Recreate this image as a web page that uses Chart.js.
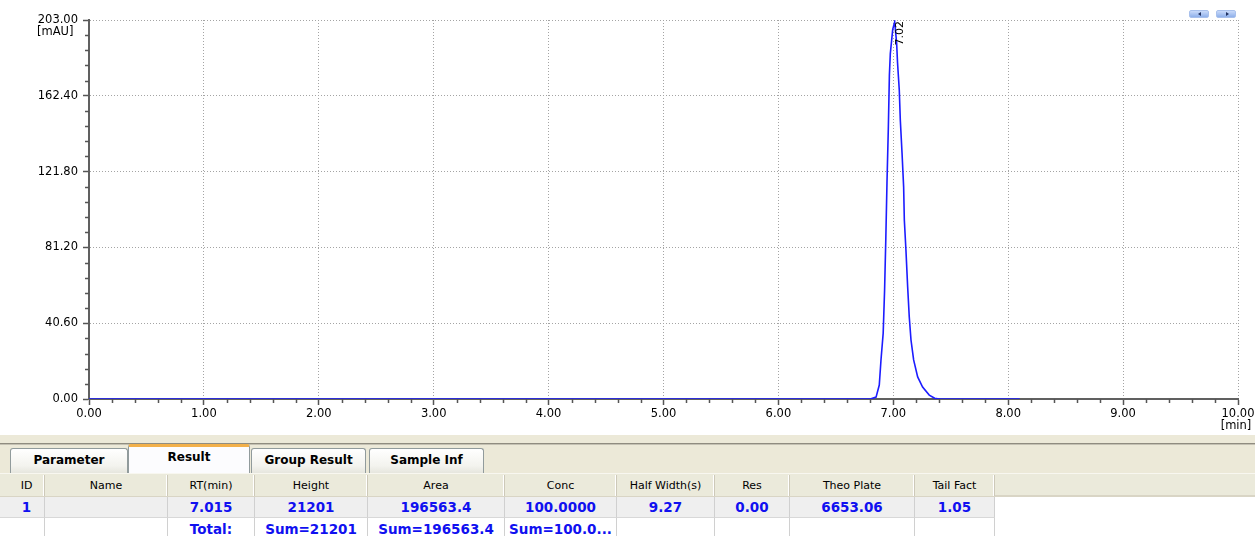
<!DOCTYPE html>
<html><head><meta charset="utf-8">
<script src="https://cdn.jsdelivr.net/npm/chart.js@4.4.0/dist/chart.umd.min.js"></script>
<style>
html,body{margin:0;padding:0;}
body{width:1255px;height:536px;overflow:hidden;background:#fff;position:relative;font-family:'DejaVu Sans',sans-serif;}
#wrap{position:absolute;left:0;top:0;width:1255px;height:436px;}
.btn{position:absolute;top:10px;width:20px;height:8px;border-radius:2px;background:linear-gradient(#c9dafa,#8fb0ea);border:1px solid #a8c0ec;box-sizing:border-box;}
.tri{position:absolute;top:1px;width:0;height:0;border-top:2.5px solid transparent;border-bottom:2.5px solid transparent;}
#panel{position:absolute;left:0;top:435px;width:1255px;height:101px;background:#ECE9D8;}
#line1{position:absolute;left:0;top:443px;width:1255px;height:1px;background:#8f8c80;}
#line2{position:absolute;left:0;top:444px;width:1255px;height:1px;background:#c4c1b3;}
.tab{position:absolute;box-sizing:border-box;font-weight:bold;font-size:12px;color:#000;text-align:center;border:1px solid #919B9C;border-bottom:none;border-radius:3px 3px 0 0;background:linear-gradient(#ffffff,#f3f3ee 70%,#e6e6de);}
.tab.active{background:#FCFCFE;border-top:3px solid #F2B04A;border-left:1px solid #919B9C;border-right:1px solid #919B9C;}
.cell{position:absolute;box-sizing:border-box;text-align:center;white-space:nowrap;overflow:hidden;}
.hd{font-size:11px;color:#000;background:#EBEADB;border-right:1px solid #cdc9b9;box-shadow:inset -1px 0 0 #fff;}
.dr{font-size:13.5px;font-weight:bold;color:#1010f0;border-right:1px solid #d0d0d0;border-bottom:1px solid #d8d8d8;}
</style></head><body>
<div id="wrap"><canvas id="c" width="1255" height="436"></canvas></div>
<div class="btn" style="left:1189px;"><div class="tri" style="left:8px;border-right:3px solid #203060;"></div></div>
<div class="btn" style="left:1216px;"><div class="tri" style="left:9px;border-left:3px solid #203060;"></div></div>
<div id="panel"></div>
<div id="line1"></div><div id="line2"></div>
<div id="tabs"></div>
<div id="table"></div>
<script>
// ---- chromatogram data (time in min, signal in mAU) ----
const timeMin = [0.00, 6.80, 6.850, 6.878, 6.893, 6.912, 6.924, 6.935, 6.945, 6.957, 6.966, 6.974, 6.995, 7.012,
                 7.029, 7.037, 7.052, 7.061, 7.076, 7.090, 7.096, 7.110, 7.125, 7.139, 7.154, 7.177, 7.212, 7.255, 7.313, 7.360, 7.400, 8.10];
const signal  = [0.0, 0.0, 1.0, 7.5, 21.0, 35.3, 58.0, 86.2, 115.7, 145.7, 173.5, 185.0, 198.0, 202.0,
                 190.7, 180.0, 165.5, 149.4, 131.8, 113.5, 95.9, 79.8, 60.0, 43.9, 31.6, 20.9, 11.8, 6.4, 2.1, 0.4, 0.0, 0.0];
const xMin = 0, xMax = 10, xMajorStep = 1, xMinorStep = 0.2;
const yMin = 0, yMax = 203, yMajorStep = 40.6, yMinorStep = 8.12;
const yUnit = '[mAU]';
const xUnit = '[min]';
const peakTimes = [7.02];
const peakLabels = ['7.02'];

// ---- result table ----
const tabNames = ['Parameter', 'Result', 'Group Result', 'Sample Inf'];
const activeTab = 'Result';
const columns = ['ID', 'Name', 'RT(min)', 'Height', 'Area', 'Conc', 'Half Width(s)', 'Res', 'Theo Plate', 'Tail Fact'];
const resultRow = ['1', '', '7.015', '21201', '196563.4', '100.0000', '9.27', '0.00', '6653.06', '1.05'];
const totalRow = ['', '', 'Total:', 'Sum=21201', 'Sum=196563.4', 'Sum=100.0...', '', '', '', ''];

// layout (not data)
const tabBoxes = [[10,448,118,25],[128,444,122,30],[251,448,115,25],[369,448,115,25]];
const colEdges = [0,45,168,255,368,505,617,715,790,915,995];

// build tabs
const tabsEl = document.getElementById('tabs');
tabNames.forEach((n,i)=>{
  const [l,t,w,h] = tabBoxes[i];
  const d = document.createElement('div');
  d.className = 'tab' + (n===activeTab?' active':'');
  d.style.left=l+'px'; d.style.top=t+'px'; d.style.width=w+'px'; d.style.height=h+'px';
  d.style.lineHeight = (n===activeTab? 21 : 23)+'px';
  d.textContent = n;
  tabsEl.appendChild(d);
});
// build table
const tbl = document.getElementById('table');
function addCell(cls, text, i, top, h, bg){
  const d = document.createElement('div');
  d.className = 'cell ' + cls;
  const l = colEdges[i], r = colEdges[i+1];
  d.style.left=l+'px'; d.style.top=top+'px'; d.style.width=(r-l)+'px'; d.style.height=h+'px';
  d.style.lineHeight=h+'px';
  if (i===0) d.style.paddingLeft='9px';
  if (bg) d.style.background=bg;
  d.textContent = text;
  tbl.appendChild(d);
}
// header band
const hb = document.createElement('div');
hb.style.cssText='position:absolute;left:0;top:473px;width:1255px;height:24px;background:#EBEADB;border-top:1px solid #f8f7f0;box-sizing:border-box;border-bottom:2px solid #d9d5c5;';
tbl.appendChild(hb);
columns.forEach((c,i)=>addCell('hd', c, i, 475, 21));
// white area for rows
const wb = document.createElement('div');
wb.style.cssText='position:absolute;left:0;top:497px;width:1255px;height:39px;background:#fff;';
tbl.appendChild(wb);
resultRow.forEach((c,i)=>addCell('dr', c, i, 497, 21, '#EFEFEF'));
totalRow.forEach((c,i)=>addCell('dr', c, i, 518, 22, '#fff'));

// ---- chart ----
const isInt = v => Math.abs(v/xMajorStep - Math.round(v/xMajorStep)) < 1e-6;
const isYMajor = v => Math.abs(v/yMajorStep - Math.round(v/yMajorStep)) < 1e-6;
const FONT = {family:'DejaVu Sans', size:11.5};

const minorTicks = {
  id:'minorTicks',
  afterDraw(chart){
    const ctx = chart.ctx, xs = chart.scales.x, ys = chart.scales.y, a = chart.chartArea;
    ctx.save();
    ctx.strokeStyle = '#555'; ctx.lineWidth = 1.5;
    ctx.beginPath();
    xs.ticks.forEach(t=>{ if(!isInt(t.value)){ const px=Math.round(xs.getPixelForValue(t.value))+0.5; ctx.moveTo(px,a.bottom); ctx.lineTo(px,a.bottom+4);} });
    ys.ticks.forEach(t=>{ if(!isYMajor(t.value)){ const py=Math.round(ys.getPixelForValue(t.value))+0.5; ctx.moveTo(a.left,py); ctx.lineTo(a.left-4,py);} });
    ctx.stroke();
    // unit labels
    ctx.fillStyle = '#000';
    ctx.font = '11.5px "DejaVu Sans"';
    ctx.textBaseline = 'top';
    ctx.textAlign = 'left';
    ctx.fillText(yUnit, ys.left + 37, ys.getPixelForValue(yMax) + 6);
    ctx.textAlign = 'center';
    ctx.fillText(xUnit, xs.getPixelForValue(xMax) - 2, xs.top + 21);
    // peak labels (rotated)
    ctx.font = '11px "DejaVu Sans"';
    peakTimes.forEach((t,i)=>{
      ctx.save();
      ctx.translate(xs.getPixelForValue(t)-0.5, a.top+1);
      ctx.rotate(-Math.PI/2);
      ctx.textAlign = 'right'; ctx.textBaseline = 'top';
      ctx.fillText(peakLabels[i], 0, 0);
      ctx.restore();
    });
    ctx.restore();
  }
};

new Chart(document.getElementById('c'), {
  type:'line',
  data:{ datasets:[{ data: timeMin.map((t,i)=>({x:t, y:signal[i]})), borderColor:'#1c1cff', borderWidth:1.6, pointRadius:0, tension:0, fill:false }]},
  options:{
    responsive:false, animation:false, devicePixelRatio:1,
    layout:{padding:{left:0, top:20, right:17, bottom:0}},
    plugins:{legend:{display:false}, tooltip:{enabled:false}},
    scales:{
      x:{ type:'linear', min:xMin, max:xMax,
        ticks:{ stepSize:xMinorStep, autoSkip:false, maxRotation:0, maxTicksLimit:200, padding:2, color:'#000', font:FONT,
          callback:(v)=> isInt(v) ? v.toFixed(2) : '' },
        grid:{ color:(c)=> (c.tick && isInt(c.tick.value)) ? '#a4a4a4' : 'rgba(0,0,0,0)', lineWidth:1, tickLength:6,
          tickColor:(c)=> (c.tick && isInt(c.tick.value)) ? '#555' : 'rgba(0,0,0,0)', tickWidth:1.5, tickBorderDash:[] },
        border:{ display:true, color:'#606060', width:2, dash:[1,2] },
        afterFit(s){ s.height = 37; s.paddingLeft = 0; s.paddingRight = 0; }
      },
      y:{ type:'linear', min:yMin, max:yMax,
        ticks:{ stepSize:yMinorStep, autoSkip:false, maxTicksLimit:200, padding:5, color:'#000', font:FONT,
          callback:(v)=> isYMajor(v) ? v.toFixed(2) : '' },
        grid:{ color:(c)=> (c.tick && isYMajor(c.tick.value)) ? '#a4a4a4' : 'rgba(0,0,0,0)', lineWidth:1, tickLength:6,
          tickColor:(c)=> (c.tick && isYMajor(c.tick.value)) ? '#555' : 'rgba(0,0,0,0)', tickWidth:1.5, tickBorderDash:[] },
        border:{ display:true, color:'#606060', width:2, dash:[1,2] },
        afterFit(s){ s.width = 89; s.paddingTop = 0; s.paddingBottom = 0; }
      }
    }
  },
  plugins:[minorTicks]
});
</script>
</body></html>
